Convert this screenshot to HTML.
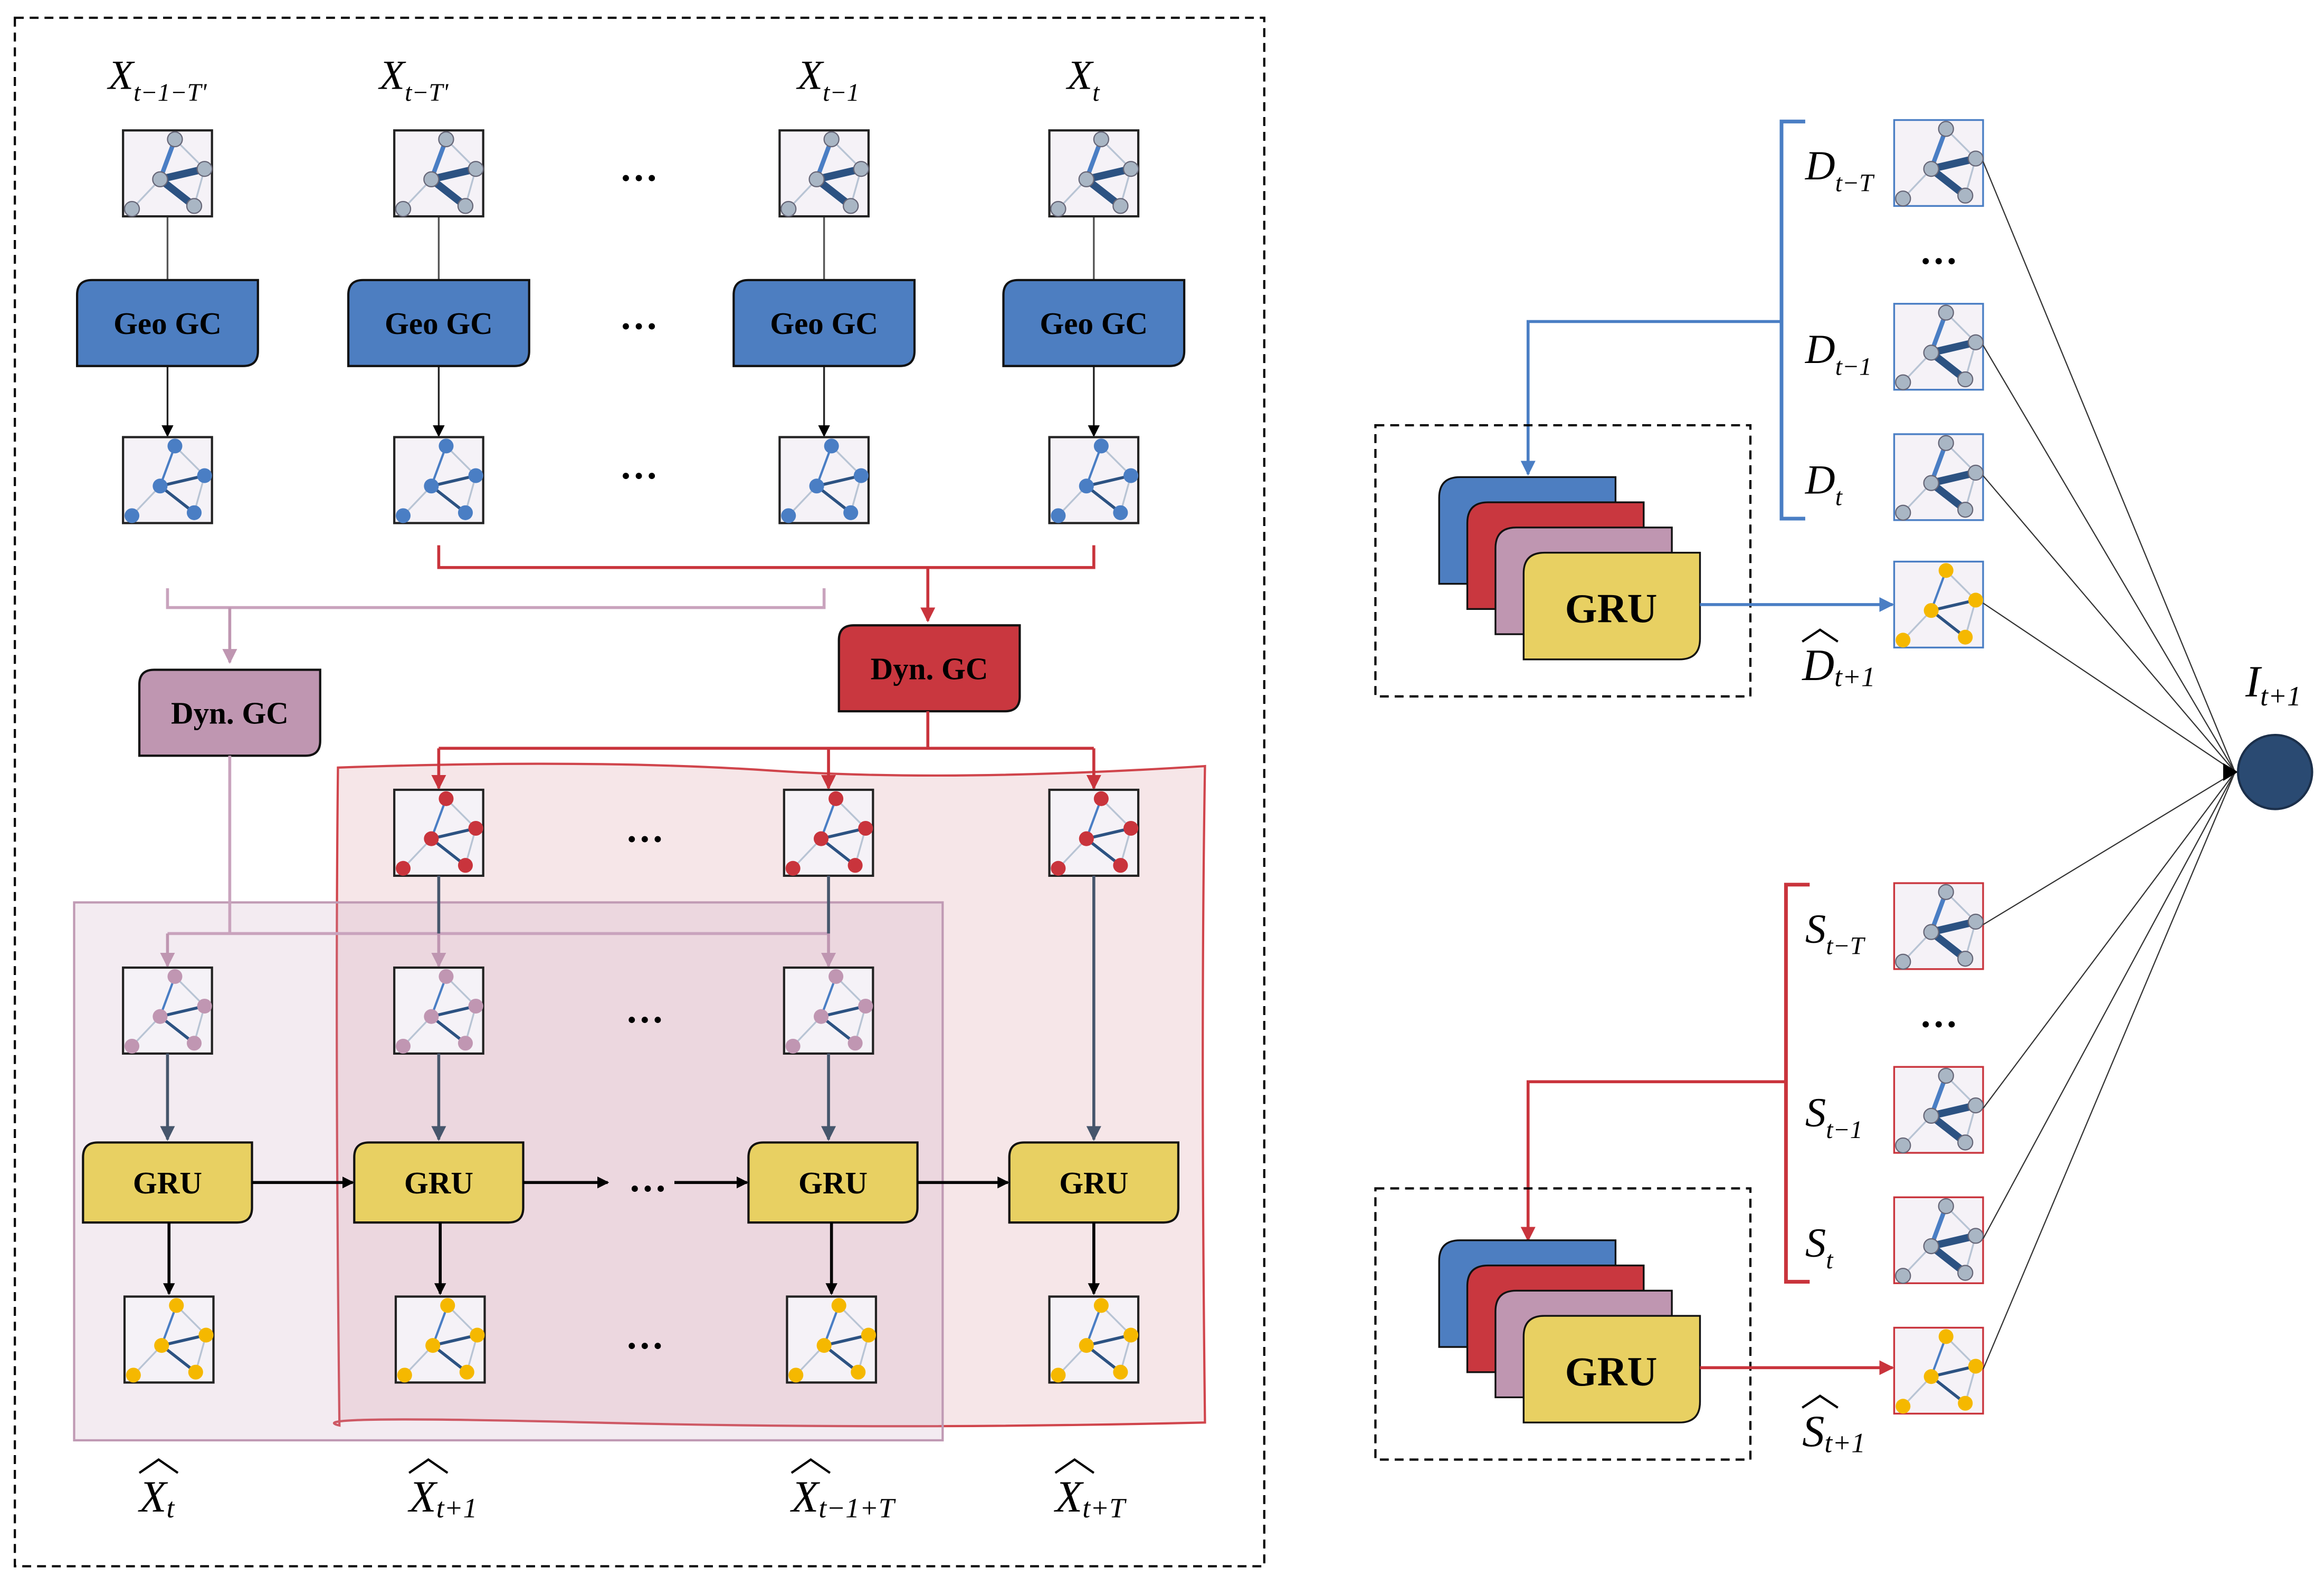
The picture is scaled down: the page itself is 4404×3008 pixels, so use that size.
<!DOCTYPE html>
<html><head><meta charset="utf-8">
<style>html,body{margin:0;padding:0;background:#fff}svg{display:block}
text{font-family:"Liberation Serif",serif}</style></head>
<body>
<svg id="s" width="4404" height="3008" viewBox="0 0 1568 1071" xmlns="http://www.w3.org/2000/svg">
<defs>
<marker id="ak" markerWidth="8" markerHeight="8" refX="7" refY="4" orient="auto" markerUnits="userSpaceOnUse"><path d="M0,0 L8,4 L0,8Z" fill="#000"/></marker>
<marker id="ar" markerWidth="10" markerHeight="10" refX="9" refY="5" orient="auto" markerUnits="userSpaceOnUse"><path d="M0,0 L10,5 L0,10Z" fill="#c9343c"/></marker>
<marker id="ap" markerWidth="10" markerHeight="10" refX="9" refY="5" orient="auto" markerUnits="userSpaceOnUse"><path d="M0,0 L10,5 L0,10Z" fill="#bf96b1"/></marker>
<marker id="ab" markerWidth="10" markerHeight="10" refX="9" refY="5" orient="auto" markerUnits="userSpaceOnUse"><path d="M0,0 L10,5 L0,10Z" fill="#4a7ec4"/></marker>
<marker id="ag" markerWidth="10" markerHeight="10" refX="9" refY="5" orient="auto" markerUnits="userSpaceOnUse"><path d="M0,0 L10,5 L0,10Z" fill="#46566c"/></marker>
</defs>
<rect x="10" y="12" width="843" height="1045" fill="none" stroke="#000" stroke-width="1.5" stroke-dasharray="6,4"/>
<path d="M228,518 Q400,512 520,520 T813,517 Q810,700 813,960 Q600,965 400,960 T229,962 Q226,700 228,518Z" fill="#f6e6e8" stroke="#d0454c" stroke-width="1.5"/>
<rect x="50" y="609" width="586" height="363" fill="#c9a3bd" fill-opacity="0.22" stroke="#c09ab4" stroke-width="1.5"/>
<g id="g"></g>
</svg>
<script>
const NS="http://www.w3.org/2000/svg";
const S=document.getElementById('g');
function el(t,a,p){const e=document.createElementNS(NS,t);for(const k in a)e.setAttribute(k,a[k]);(p||S).appendChild(e);return e;}
function txt(x,y,s,a){const e=el('text',Object.assign({x:x,y:y},a||{}));e.innerHTML=s;return e;}
function graph(cx,y,nc,thick,border,bw){
 const x=cx-30;
 el('rect',{x:x,y:y,width:60,height:58,fill:'#f5f2f7',stroke:border||'#222','stroke-width':bw||1.5});
 const P=[[35,6],[55,26],[25,33],[6,53],[48,51]].map(p=>[x+p[0],y+p[1]]);
 const L=(a,b,c,w)=>el('line',{x1:P[a][0],y1:P[a][1],x2:P[b][0],y2:P[b][1],stroke:c,'stroke-width':w});
 L(0,1,'#b8c4d4',1.2);L(1,4,'#b8c4d4',1.2);L(2,3,'#b8c4d4',1.2);
 L(0,2,'#4a7ec4',thick?3:1.5);L(2,1,'#2c5282',thick?5:2);L(2,4,'#2c5282',thick?5:2);
 for(const p of P)el('circle',{cx:p[0],cy:p[1],r:5,fill:nc,stroke:thick?'#667':'none','stroke-width':0.8});
}
function box(x,y,w,h,fill,label,fs){
 const r=10;
 el('path',{d:`M${x+r},${y} H${x+w} V${y+h-r} Q${x+w},${y+h} ${x+w-r},${y+h} H${x} V${y+r} Q${x},${y} ${x+r},${y}Z`,fill:fill,stroke:'#111','stroke-width':1.5});
 if(label)txt(x+w/2,y+h/2+fs*0.35,label,{'font-size':fs,'font-weight':'bold','text-anchor':'middle'});
}
function line(pts,c,w,m){el('polyline',{points:pts.map(p=>p.join(',')).join(' '),fill:'none',stroke:c,'stroke-width':w||1.5,'marker-end':m?`url(#${m})`:''});}
function dots(x,y){txt(x,y,'&#8230;',{'font-size':26,'font-weight':'bold','text-anchor':'middle'});}
const C=[113,296,556,738];
const tl=[['X','t&#8722;1&#8722;T\''],['X','t&#8722;T\''],['X','t&#8722;1'],['X','t']];
C.forEach((c,i)=>{const t=txt(c-40+(i>1?22:0),60,'',{'font-size':28,'font-style':'italic'});t.innerHTML=tl[i][0]+'<tspan font-size="17" dy="8">'+tl[i][1]+'</tspan>';});
C.forEach(c=>{
 line([[c,146],[c,189]],'#555',1.2);
 line([[c,247],[c,294]],'#222',1.2,'ak');
 graph(c,88,'#a9b6c4',true);
 box(c-61,189,122,58,'#4d7ec1','Geo GC',21);
 graph(c,295,'#4a7ec4',false);
});
dots(431,122);dots(431,222);dots(431,323);
line([[296,368],[296,383],[738,383],[738,368]],'#c9343c',2);
line([[626,383],[626,419]],'#c9343c',2,'ar');
line([[113,397],[113,410],[556,410],[556,397]],'#c9a3bd',2);
line([[155,410],[155,447]],'#bf96b1',2,'ap');
box(566,422,122,58,'#c9373f','Dyn. GC',21);
box(94,452,122,58,'#bf96b1','Dyn. GC',21);
line([[626,480],[626,505]],'#c9343c',2);
line([[296,505],[738,505]],'#c9343c',2);
[296,559,738].forEach(c=>{line([[c,505],[c,532]],'#c9343c',2,'ar');});
[296,559,738].forEach(c=>graph(c,533,'#c9343c',false));
dots(435,568);
line([[155,510],[155,630]],'#c9a3bd',2);
line([[113,630],[559,630]],'#c9a3bd',2);
[113,296,559].forEach(c=>line([[c,630],[c,652]],'#bf96b1',2,'ap'));
line([[296,591],[296,630]],'#46566c',2);
line([[559,591],[559,630]],'#46566c',2);
[113,296,559].forEach(c=>graph(c,653,'#c096b2',false));
dots(435,690);
[113,296,559].forEach(c=>line([[c,711],[c,769]],'#46566c',2,'ag'));
line([[738,591],[738,769]],'#46566c',2,'ag');
const G=[[56,113],[239,296],[505,562],[681,738]];
G.forEach(g=>box(g[0],771,114,54,'#e8d062','GRU',21));
line([[170,798],[238,798]],'#000',2,'ak');
line([[353,798],[410,798]],'#000',2,'ak');
dots(437,804);
line([[455,798],[504,798]],'#000',2,'ak');
line([[619,798],[680,798]],'#000',2,'ak');
const Y=[114,297,561,738];
Y.forEach(c=>{line([[c,825],[c,873]],'#000',2,'ak');graph(c,875,'#f5b800',false);});
dots(435,910);
const bl=[[108,'t'],[290,'t+1'],[548,'t&#8722;1+T'],[726,'t+T']];
bl.forEach(b=>{const t=txt(b[0]-14,1020,'',{'font-size':30,'font-style':'italic'});t.innerHTML='X<tspan font-size="19" dy="4">'+b[1]+'</tspan>';
 el('path',{d:`M${b[0]-14},${994} L${b[0]-1},${985} L${b[0]+12},${994}`,fill:'none',stroke:'#000','stroke-width':1.5});});
function side(y0,col,mk,L,letter,hatY,bx){
 el('path',{d:`M${bx+16},${y0} H${bx} V${y0+268} H${bx+16}`,fill:'none',stroke:col,'stroke-width':2.5});
 const by=y0+(y0<400?135:133);
 line([[bx,by],[1031,by],[1031,y0+(y0<400?238:240)]],col,2,mk);
 const gy=[y0-1,y0+123,y0+211];
 const lab=[['t&#8722;T'],['t&#8722;1'],['t']];
 gy.forEach((gg,i)=>{graph(1308,gg,'#a9b6c4',true,col,1.2);
  const t=txt(1218,gg+40,'',{'font-size':28,'font-style':'italic'});t.innerHTML=letter+'<tspan font-size="17" dy="8">'+lab[i]+'</tspan>';});
 txt(1308,y0+96,'&#8230;',{'font-size':26,'font-weight':'bold','text-anchor':'middle'});
 const dy=y0+205;
 el('rect',{x:928,y:dy,width:253,height:183,fill:'none',stroke:'#000','stroke-width':1.5,'stroke-dasharray':'6,4'});
 const st=[['#4d7ec1',971],['#c9373f',990],['#bf96b1',1009],['#e8d062',1028]];
 st.forEach((s,i)=>{const r=14,x=s[1],y=dy+35+i*17,w=119,h=72;
  el('path',{d:`M${x+r},${y} H${x+w} V${y+h-r} Q${x+w},${y+h} ${x+w-r},${y+h} H${x} V${y+r} Q${x},${y} ${x+r},${y}Z`,fill:s[0],stroke:'#111','stroke-width':1.2});});
 txt(1087,dy+133,'GRU',{'font-size':28,'font-weight':'bold','text-anchor':'middle'});
 line([[1147,dy+121],[1277,dy+121]],col,2,mk);
 graph(1308,hatY,'#f5b800',false,col,1.2);
 const t=txt(1216,hatY+80,'',{'font-size':30,'font-style':'italic'});t.innerHTML=letter+'<tspan font-size="19" dy="4">t+1</tspan>';
 el('path',{d:`M${1216},${hatY+54} L${1228},${hatY+46} L${1240},${hatY+54}`,fill:'none',stroke:'#000','stroke-width':1.5});
 return gy.concat([hatY]);
}
const a=side(82,'#4a7ec4','ab','','D',379,1202);
const b=side(597,'#c9343c','ar','','S',896,1205);
[...a,...b].forEach(gy=>el('line',{x1:1338,y1:gy+28,x2:1508,y2:521,stroke:'#333','stroke-width':0.8}));
el('path',{d:'M1500,515 L1510,521 L1500,527Z',fill:'#000'});
el('circle',{cx:1535,cy:521,r:25,fill:'#2a4a72',stroke:'#1b2f4a','stroke-width':1.5});
const it=txt(1515,470,'',{'font-size':30,'font-style':'italic'});it.innerHTML='I<tspan font-size="19" dy="6">t+1</tspan>';
</script>
</body></html>
